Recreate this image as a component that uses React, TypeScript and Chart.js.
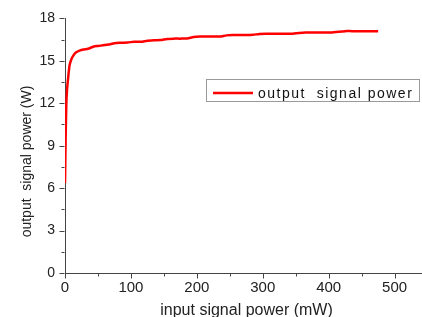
import React, { useEffect, useRef } from 'react';
import { Chart, registerables } from 'chart.js';

Chart.register(...registerables);

const inputPower = [0, 1, 2, 3, 5, 7, 10, 13, 17, 22, 28, 35, 43, 50, 58, 66, 75, 85, 95, 105, 115, 125, 135, 145, 155, 165, 175, 185, 195, 205, 215, 225, 235, 245, 255, 265, 275, 285, 295, 305, 315, 325, 335, 345, 355, 365, 375, 385, 395, 405, 415, 425, 435, 445, 455, 465, 475];
const outputPower = [6.35, 9.6, 11.9, 12.9, 13.9, 14.7, 15.15, 15.4, 15.6, 15.72, 15.8, 15.85, 16.0, 16.05, 16.1, 16.15, 16.25, 16.28, 16.3, 16.35, 16.35, 16.42, 16.45, 16.47, 16.55, 16.57, 16.57, 16.58, 16.68, 16.72, 16.72, 16.72, 16.72, 16.8, 16.82, 16.82, 16.82, 16.84, 16.9, 16.92, 16.92, 16.92, 16.92, 16.92, 16.97, 17.0, 17.0, 17.0, 17.0, 17.0, 17.06, 17.1, 17.1, 17.1, 17.1, 17.1, 17.1];

const xMajorTicks = [0, 100, 200, 300, 400, 500];
const xMinorTicks = [50, 150, 250, 350, 450];
const yMajorTicks = [0, 3, 6, 9, 12, 15, 18];
const yMinorTicks = [1.5, 4.5, 7.5, 10.5, 13.5, 16.5];

const seriesLabel = 'output  signal power';
const xTitle = 'input signal power (mW)';
const yTitle = 'output  signal power (W)';

const AXIS_COLOR = '#444';
const TEXT_COLOR = '#222';
const LINE_COLOR = '#ff0000';
const FONT = 'Arial, "Liberation Sans", sans-serif';

const decorations = {
  id: 'decorations',
  afterDraw(chart: any) {
    const { ctx, chartArea, scales } = chart;
    const x = scales.x;
    const y = scales.y;
    ctx.save();
    // tick marks
    ctx.strokeStyle = AXIS_COLOR;
    ctx.lineWidth = 1;
    ctx.beginPath();
    const bottom = Math.round(chartArea.bottom) + 0.5;
    const left = Math.round(chartArea.left) - 0.5;
    for (const v of xMajorTicks) {
      const px = Math.round(x.getPixelForValue(v)) + 0.5;
      ctx.moveTo(px, bottom);
      ctx.lineTo(px, bottom + 5);
    }
    for (const v of xMinorTicks) {
      const px = Math.round(x.getPixelForValue(v)) + 0.5;
      ctx.moveTo(px, bottom);
      ctx.lineTo(px, bottom + 3);
    }
    for (const v of yMajorTicks) {
      const py = Math.round(y.getPixelForValue(v)) + 0.5;
      ctx.moveTo(left, py);
      ctx.lineTo(left - 5, py);
    }
    for (const v of yMinorTicks) {
      const py = Math.round(y.getPixelForValue(v)) + 0.5;
      ctx.moveTo(left, py);
      ctx.lineTo(left - 3, py);
    }
    ctx.stroke();

    // legend box
    ctx.strokeStyle = '#9a9a9a';
    ctx.lineWidth = 1;
    ctx.strokeRect(206.5, 79.5, 213, 22);
    ctx.strokeStyle = LINE_COLOR;
    ctx.lineWidth = 2.5;
    ctx.beginPath();
    ctx.moveTo(213, 93);
    ctx.lineTo(253, 93);
    ctx.stroke();
    ctx.fillStyle = '#111';
    ctx.font = `14px ${FONT}`;
    ctx.textAlign = 'left';
    ctx.textBaseline = 'alphabetic';
    try { (ctx as any).letterSpacing = '1.5px'; } catch (e) {}
    ctx.fillText(seriesLabel, 258, 97.5);
    try { (ctx as any).letterSpacing = '0px'; } catch (e) {}

    // axis titles
    ctx.fillStyle = TEXT_COLOR;
    ctx.font = `16px ${FONT}`;
    ctx.textAlign = 'center';
    ctx.fillText(xTitle, 246.5, 314.5);

    ctx.save();
    ctx.translate(30.5, 161.5);
    ctx.rotate(-Math.PI / 2);
    ctx.font = `14px ${FONT}`;
    ctx.textAlign = 'center';
    ctx.textBaseline = 'alphabetic';
    ctx.fillText(yTitle, 0, 0);
    ctx.restore();

    ctx.restore();
  },
};

export default function App() {
  const canvasRef = useRef<HTMLCanvasElement | null>(null);

  useEffect(() => {
    const canvas = canvasRef.current;
    if (!canvas) return;
    const points = inputPower.map((v, i) => ({ x: v, y: outputPower[i] }));
    const chart = new Chart(canvas, {
      type: 'line',
      data: {
        datasets: [
          {
            label: seriesLabel,
            data: points,
            borderColor: LINE_COLOR,
            backgroundColor: LINE_COLOR,
            borderWidth: 2.5,
            pointRadius: 0,
            tension: 0.2,
            fill: false,
          },
        ],
      },
      options: {
        responsive: false,
        animation: false,
        devicePixelRatio: 1,
        layout: { padding: { top: 18, right: 1, left: 0, bottom: 0 } },
        plugins: {
          legend: { display: false },
          tooltip: { enabled: false },
        },
        scales: {
          x: {
            type: 'linear',
            min: 0,
            max: 540,
            afterBuildTicks: (scale: any) => {
              scale.ticks = xMajorTicks.map((v) => ({ value: v }));
            },
            afterFit: (scale: any) => {
              scale.height = 44;
            },
            grid: { display: true, drawOnChartArea: false, drawTicks: false },
            border: { display: true, color: AXIS_COLOR, width: 1 },
            ticks: {
              padding: 6,
              color: TEXT_COLOR,
              font: { family: FONT, size: 15 },
              maxRotation: 0,
              autoSkip: false,
            },
          },
          y: {
            type: 'linear',
            min: 0,
            max: 18,
            afterBuildTicks: (scale: any) => {
              scale.ticks = yMajorTicks.map((v) => ({ value: v }));
            },
            afterFit: (scale: any) => {
              scale.width = 65;
            },
            grid: { display: true, drawOnChartArea: false, drawTicks: false },
            border: { display: true, color: AXIS_COLOR, width: 1 },
            ticks: {
              padding: 10,
              color: TEXT_COLOR,
              font: { family: FONT, size: 14 },
              autoSkip: false,
            },
          },
        },
      },
      plugins: [decorations],
    });
    return () => chart.destroy();
  }, []);

  return (
    <div style={{ position: 'fixed', left: 0, top: 0, width: 422, height: 317, background: '#fff', overflow: 'hidden' }}>
      <canvas ref={canvasRef} width={422} height={317} style={{ display: 'block' }} />
    </div>
  );
}
